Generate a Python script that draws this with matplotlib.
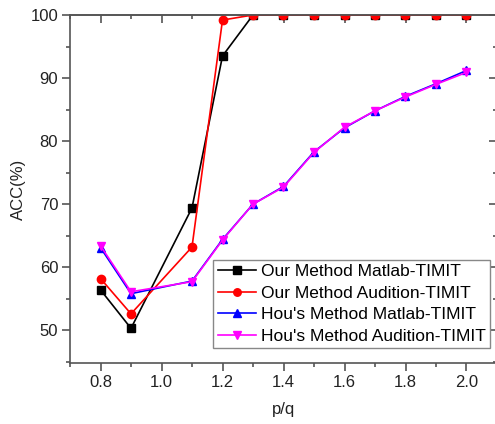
import matplotlib
matplotlib.use('Agg')
import matplotlib.pyplot as plt
import matplotlib.ticker as ticker

plt.rc('font', **{'family': 'sans-serif', 'sans-serif': ['Liberation Sans', 'DejaVu Sans']})

pq = [0.8, 0.9, 1.1, 1.2, 1.3, 1.4, 1.5, 1.6, 1.7, 1.8, 1.9, 2.0]

our_matlab = [56.4, 50.3, 69.4, 93.5, 100, 100, 100, 100, 100, 100, 100, 100]
our_audition = [58.2, 52.6, 63.2, 99.2, 100, 100, 100, 100, 100, 100, 100, 100]
hou_matlab = [63.1, 55.8, 57.8, 64.4, 70.0, 72.8, 78.3, 82.1, 84.8, 87.1, 89.1, 91.2]
hou_audition = [63.4, 56.1, 57.7, 64.3, 70.0, 72.7, 78.2, 82.2, 84.8, 87.0, 89.0, 90.9]

labels = ['Our Method Matlab-TIMIT', 'Our Method Audition-TIMIT',
          "Hou's Method Matlab-TIMIT", "Hou's Method Audition-TIMIT"]

fig = plt.figure(figsize=(4.95, 4.24), dpi=100)
ax = fig.add_axes([70 / 495, 1 - 363 / 424, 427 / 495, 348 / 424])

series = [
    (our_matlab, 'black', 's'),
    (our_audition, 'red', 'o'),
    (hou_matlab, '#0000ff', '^'),
    (hou_audition, '#ff00ff', 'v'),
]
for (vals, col, mk), lab in zip(series, labels):
    ax.plot(pq, vals, color=col, marker=mk, markersize=6, linewidth=1.2, label=lab)

ax.set_xlim(0.7, 2.1)
ax.set_ylim(44.8, 100)
ax.xaxis.set_major_locator(ticker.MultipleLocator(0.2))
ax.xaxis.set_minor_locator(ticker.MultipleLocator(0.1))
ax.yaxis.set_major_locator(ticker.MultipleLocator(10))
ax.yaxis.set_minor_locator(ticker.MultipleLocator(5))
ax.xaxis.set_major_formatter(ticker.FormatStrFormatter('%.1f'))

spine_col = '#555555'
for s in ax.spines.values():
    s.set_color(spine_col)
    s.set_linewidth(1.2)

ax.tick_params(which='major', direction='out', length=5.5, width=1.2, color=spine_col,
               labelsize=12, labelcolor='#222222', pad=3)
ax.tick_params(which='minor', direction='out', length=3, width=1.2, color=spine_col)

top = ax.secondary_xaxis('top')
top.xaxis.set_major_locator(ticker.MultipleLocator(0.2))
top.xaxis.set_minor_locator(ticker.MultipleLocator(0.1))
top.tick_params(which='major', direction='in', length=6, width=1.2, color=spine_col, labeltop=False)
top.tick_params(which='minor', direction='in', length=3, width=1.2, color=spine_col)
top.spines['top'].set_color(spine_col)
top.spines['top'].set_linewidth(1.2)

right = ax.secondary_yaxis('right')
right.yaxis.set_major_locator(ticker.MultipleLocator(10))
right.yaxis.set_minor_locator(ticker.MultipleLocator(5))
right.tick_params(which='major', direction='in', length=6, width=1.2, color=spine_col, labelright=False)
right.tick_params(which='minor', direction='in', length=3, width=1.2, color=spine_col)

ax.set_xlabel('p/q', fontsize=12, color='#222222', labelpad=9)
ax.set_ylabel('ACC(%)', fontsize=12, color='#222222', labelpad=3)

leg = ax.legend(loc='lower right', bbox_to_anchor=(0.984, 0.043), fontsize=12.5,
                fancybox=False, framealpha=1, edgecolor='#888888',
                handlelength=2.2, handletextpad=0.3, borderpad=0.25,
                labelspacing=0.36, borderaxespad=0, markerscale=0.9)
leg.get_frame().set_linewidth(1.0)

fig.savefig('out.png', dpi=100)
